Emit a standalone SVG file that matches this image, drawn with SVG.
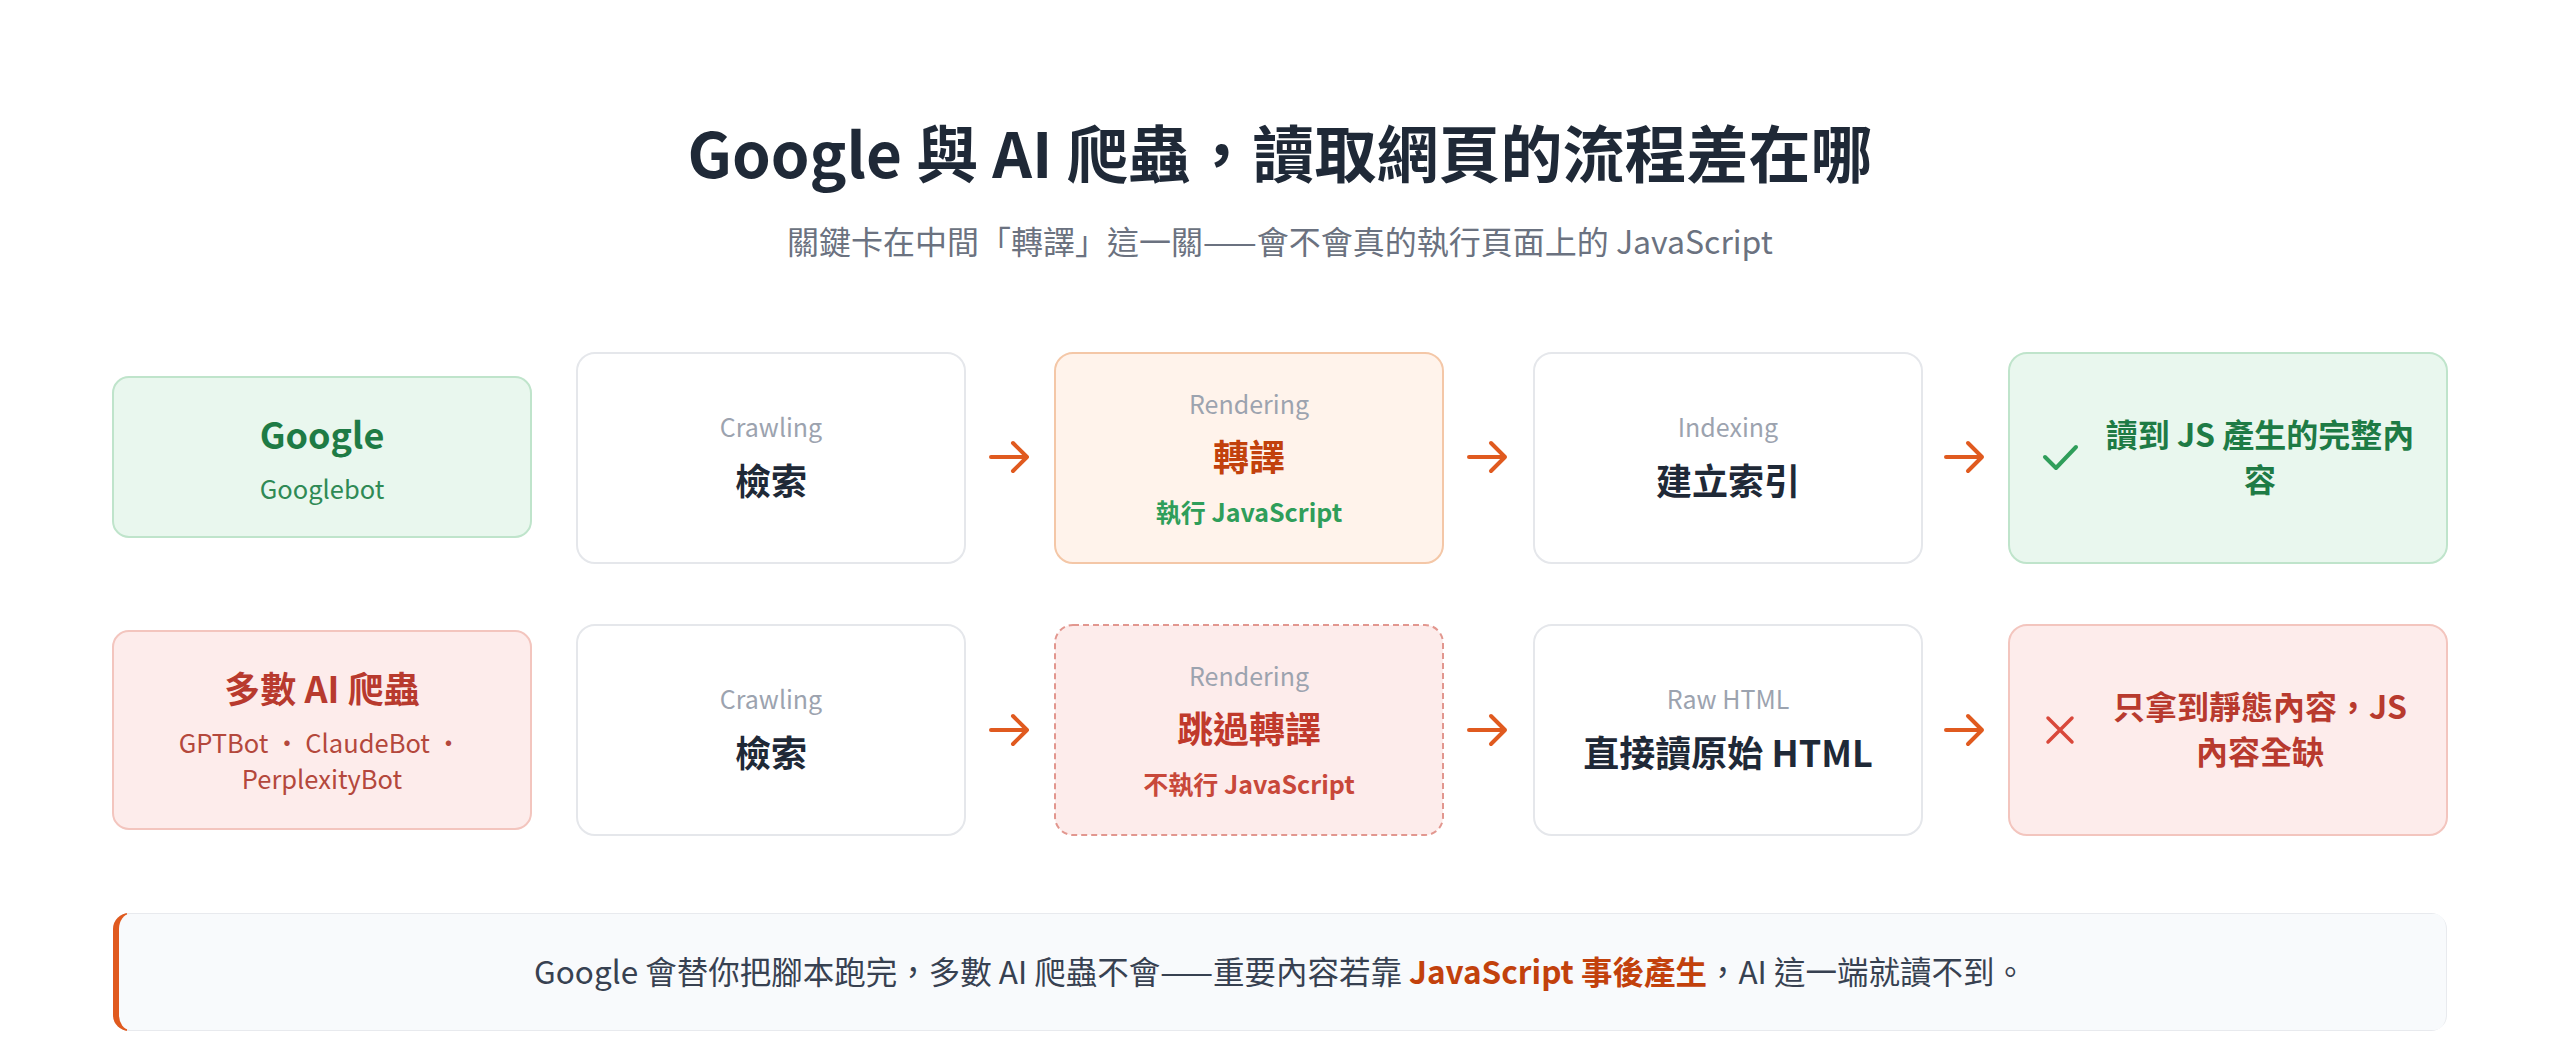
<svg xmlns="http://www.w3.org/2000/svg" width="2560" height="1056" viewBox="0 0 2560 1056">
<defs>
<style>
text { font-family: "Noto Sans CJK TC", "Noto Sans", sans-serif; text-anchor: middle; }
.title { font-size: 62px; font-weight: 700; fill: #1f2937; }
.subtitle { font-size: 32px; fill: #6b7280; }
.box { fill: #ffffff; stroke: #e5e7eb; stroke-width: 2; }
.good { fill: #e9f7ee; stroke: #bfe4cb; stroke-width: 2; }
.bad { fill: #fdeceb; stroke: #f3c5be; stroke-width: 2; }
.warm { fill: #fff3eb; stroke: #f4c7a7; stroke-width: 2; }
.skip { fill: #fdeceb; stroke: #e2978f; stroke-width: 2; stroke-dasharray: 6 4; }
.en { font-size: 25px; fill: #9ca3af; }
.step { font-size: 36px; font-weight: 700; fill: #1f2937; }
.gtitle { font-size: 36px; font-weight: 700; fill: #1e7b45; }
.gsub { font-size: 25.5px; fill: #2f8a55; }
.rtitle { font-size: 36px; font-weight: 700; fill: #b83a2e; }
.rsub { font-size: 25.5px; fill: #b4483c; }
.orange { font-size: 36px; font-weight: 700; fill: #c2410c; }
.gnote { font-size: 25px; font-weight: 700; fill: #2f9e5a; }
.rnote { font-size: 25px; font-weight: 700; fill: #c8483a; }
.skiptitle { font-size: 36px; font-weight: 700; fill: #c0392b; }
.gres { font-size: 32px; font-weight: 700; fill: #1e7b45; }
.rres { font-size: 32px; font-weight: 700; fill: #b83a2e; }
.arrow { fill: none; stroke: #e05a1f; stroke-width: 4; stroke-linecap: round; stroke-linejoin: round; }
.foot { font-size: 31.5px; fill: #374151; }
.hl { font-weight: 700; fill: #c2410c; }
</style>
<clipPath id="footclip"><rect x="113" y="913" width="2334" height="118" rx="16"/></clipPath>
</defs>
<rect width="2560" height="1056" fill="#ffffff"/>

<g id="header">
<text class="title" x="1280" y="178">Google 與 AI 爬蟲，讀取網頁的流程差在哪</text>
<text class="subtitle" x="1280" y="254">關鍵卡在中間「轉譯」這一關——會不會真的執行頁面上的 JavaScript</text>
</g>

<g id="n-google">
<rect class="good" x="113" y="377" width="418" height="160" rx="16"/>
<text class="gtitle" x="322" y="449">Google</text>
<text class="gsub" x="322" y="499">Googlebot</text>
</g>
<g id="n-crawl1">
<rect class="box" x="577" y="353" width="388" height="210" rx="18"/>
<text class="en" x="771" y="437">Crawling</text>
<text class="step" x="771" y="495">檢索</text>
</g>
<g id="n-render1">
<rect class="warm" x="1055" y="353" width="388" height="210" rx="18"/>
<text class="en" x="1249" y="414">Rendering</text>
<text class="orange" x="1249" y="471">轉譯</text>
<text class="gnote" x="1249" y="522">執行 JavaScript</text>
</g>
<g id="n-index1">
<rect class="box" x="1534" y="353" width="388" height="210" rx="18"/>
<text class="en" x="1728" y="437">Indexing</text>
<text class="step" x="1728" y="495">建立索引</text>
</g>
<g id="n-result1">
<rect class="good" x="2009" y="353" width="438" height="210" rx="18"/>
<path d="M2045 457 L2056 468 L2076 447" fill="none" stroke="#2f9e5a" stroke-width="4" stroke-linecap="round" stroke-linejoin="round"/>
<text class="gres" x="2260" y="447">讀到 JS 產生的完整內</text>
<text class="gres" x="2260" y="492">容</text>
</g>

<g id="n-ai">
<rect class="bad" x="113" y="631" width="418" height="198" rx="16"/>
<text class="rtitle" x="322" y="703">多數 AI 爬蟲</text>
<text class="rsub" x="320" y="753">GPTBot ・ ClaudeBot ・</text>
<text class="rsub" x="322" y="789">PerplexityBot</text>
</g>
<g id="n-crawl2">
<rect class="box" x="577" y="625" width="388" height="210" rx="18"/>
<text class="en" x="771" y="709">Crawling</text>
<text class="step" x="771" y="767">檢索</text>
</g>
<g id="n-render2">
<rect class="skip" x="1055" y="625" width="388" height="210" rx="18"/>
<text class="en" x="1249" y="686">Rendering</text>
<text class="skiptitle" x="1249" y="743">跳過轉譯</text>
<text class="rnote" x="1249" y="794">不執行 JavaScript</text>
</g>
<g id="n-raw">
<rect class="box" x="1534" y="625" width="388" height="210" rx="18"/>
<text class="en" x="1728" y="709">Raw HTML</text>
<text class="step" x="1728" y="767">直接讀原始 HTML</text>
</g>
<g id="n-result2">
<rect class="bad" x="2009" y="625" width="438" height="210" rx="18"/>
<path d="M2048 718 L2072 742 M2072 718 L2048 742" fill="none" stroke="#d9483b" stroke-width="3.5" stroke-linecap="round"/>
<text class="rres" x="2260" y="719">只拿到靜態內容，JS</text>
<text class="rres" x="2260" y="764">內容全缺</text>
</g>

<g id="connectors">
<path class="arrow" d="M991 457 H1027 M1013 443 L1027 457 L1013 471"/>
<path class="arrow" d="M1469 457 H1505 M1491 443 L1505 457 L1491 471"/>
<path class="arrow" d="M1946 457 H1982 M1968 443 L1982 457 L1968 471"/>
<path class="arrow" d="M991 730 H1027 M1013 716 L1027 730 L1013 744"/>
<path class="arrow" d="M1469 730 H1505 M1491 716 L1505 730 L1491 744"/>
<path class="arrow" d="M1946 730 H1982 M1968 716 L1982 730 L1968 744"/>
</g>

<g id="footer">
<rect x="113" y="913" width="2334" height="118" rx="16" fill="#e8eaee"/>
<g clip-path="url(#footclip)"><rect x="113" y="913" width="14" height="118" fill="#e05a1f"/></g>
<rect x="119" y="914" width="2327" height="116" rx="11" ry="15" fill="#f8fafc"/>
<text class="foot" x="1280" y="984">Google 會替你把腳本跑完，多數 AI 爬蟲不會——重要內容若靠 <tspan class="hl">JavaScript 事後產生</tspan>，AI 這一端就讀不到。</text>
</g>
</svg>
